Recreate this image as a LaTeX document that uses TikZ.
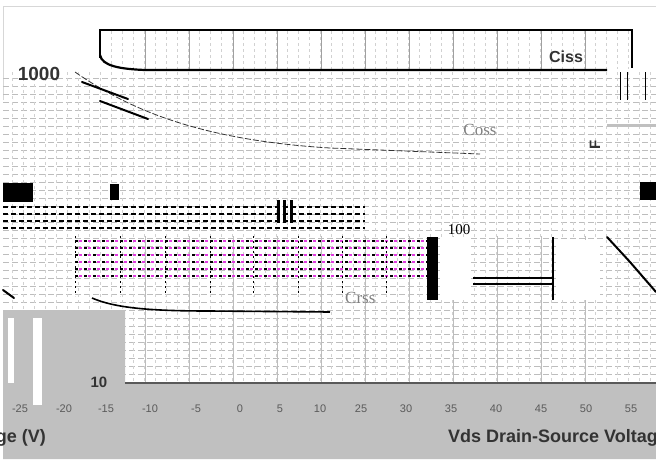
\documentclass[tikz,border=0pt]{standalone}
\usepackage{fontspec}
\setmainfont{Liberation Sans}
\newfontfamily\serifface{Liberation Serif}
\usetikzlibrary{positioning, calc}
\definecolor{gridgray}{HTML}{BDBDBD}
\definecolor{majorgray}{HTML}{A0A0A0}
\definecolor{panelgray}{HTML}{C0C0C0}
\definecolor{labelgray}{HTML}{333333}
\definecolor{ticktext}{HTML}{5A5A5A}
\definecolor{glitchpink}{HTML}{E23BE2}
\tikzset{
  minorgrid/.style={gridgray, line width=0.6pt, dash pattern=on 6pt off 3pt},
  vminor/.style={gridgray!70, line width=0.5pt, dash pattern=on 3pt off 3pt},
  majorgrid/.style={majorgray, line width=1pt},
  curveline/.style={labelgray, line width=0.8pt},
  thickcurve/.style={black, line width=2pt, line cap=round},
  axislabel/.style={labelgray, font=\bfseries\fontsize{18}{20}\selectfont, inner sep=0pt},
  ticklabel/.style={ticktext, font=\fontsize{11}{12}\selectfont, inner sep=0pt}
}

\begin{document}
\begin{tikzpicture}[x=1pt, y=-1pt]
  \useasboundingbox (0,0) rectangle (656,459);
  \fill[white] (0,0) rectangle (656,459);
  % page frame
  \draw[gridgray!60, line width=1pt] (3,100) -- (3,6) -- (656,6);
  % dashed grid of the plot area
  \foreach \gy in {78,86,...,376}
    \draw[minorgrid] (3,\gy) -- (656,\gy);
  \foreach \gx in {12,23,...,650}
    \draw[vminor] (\gx,72) -- (\gx,383);
  \foreach \gx in {145,189,...,588}
    \draw[majorgrid, gridgray] (\gx,236) -- (\gx,383);
  % glitch rows
  \foreach \gy in {207,214,221,228}
    \draw[black, line width=1.6pt, dash pattern=on 5pt off 3pt] (3,\gy) -- (365,\gy);
  \foreach \gy in {241,248,255,262,269,276} {
    \draw[black, line width=2pt, dash pattern=on 3pt off 6pt] (75,\gy) -- (430,\gy);
    \draw[glitchpink, line width=2pt, dash pattern=on 3pt off 6pt] (79,\gy) -- (430,\gy);
  }
  \foreach \gx in {75,120,165,210,253,298,342,386}
    \draw[black, line width=1pt, dash pattern=on 2pt off 3pt] (\gx,236) -- (\gx,296);
  % black blocks
  \fill[black] (3,183) rectangle (33,202);
  \fill[black] (110,184) rectangle (119,200);
  \fill[black] (640,182) rectangle (656,200);
  \foreach \gx in {277,283,290}
    \fill[black] (\gx,200) rectangle ++(3,23);
  \fill[black] (427,237) rectangle (438,300);
  \fill[white] (440,237) rectangle (470,300);
  \draw[black, line width=2pt] (553,237) -- (553,300);
  \draw[black, line width=1.2pt] (473,278) -- (553,278);
  \draw[black, line width=1.2pt] (473,284) -- (553,284);
  \fill[white] (556,240) rectangle (600,300);
  % right edge marks
  \foreach \gx in {620,627,645}
    \draw[black, line width=1pt] (\gx,72) -- (\gx,100);
  \draw[panelgray, line width=3pt] (607,125) -- (656,125);
  % Ciss panel
  \fill[white] (100,30) rectangle (632,70);
  \foreach \gx in {111,122,...,630}
    \draw[vminor] (\gx,31) -- (\gx,69);
  \foreach \gx in {145,189,...,588}
    \draw[majorgrid] (\gx,31) -- (\gx,69);
  \draw[black, line width=2pt] (100,58) -- (100,30) -- (632,30) -- (632,68);
  \draw[black, line width=2.2pt] (100,55) .. controls (102,66) and (120,69) .. (145,70) -- (607,70);
  \node[labelgray, font=\bfseries\fontsize{16}{18}\selectfont, inner sep=0pt] (ciss) at (566,57) {Ciss};
  % Coss curve
  \draw[curveline, dash pattern=on 6pt off 2pt] (75,72) .. controls (130,110) and (200,140) .. (330,148) -- (480,154);
  \draw[thickcurve] (82,82) -- (128,99);
  \draw[thickcurve] (100,101) -- (148,119);
  \node[gray, font=\serifface\fontsize{17}{18}\selectfont, inner sep=0pt] (coss) at (480,130) {Coss};
  \node[labelgray, font=\bfseries\fontsize{15}{16}\selectfont, rotate=90, inner sep=0pt] (unitmark) at (595,145) {F};
  % Crss curve
  \draw[thickcurve] (3,290) -- (14,298);
  \draw[black, line width=1.6pt] (92,298) .. controls (115,308) and (150,311) .. (210,311) -- (330,312);
  \node[gray, font=\serifface\fontsize{17}{18}\selectfont, inner sep=0pt, anchor=west] (crss) at (345,298) {Crss};
  \draw[thickcurve] (607,237) -- (630,262) -- (656,292);
  % value labels
  \node[labelgray, font=\bfseries\fontsize{19}{20}\selectfont, inner sep=0pt] (thousand) at (39,74) {1000};
  \node[black, font=\serifface\fontsize{15}{16}\selectfont, inner sep=0pt] (hundred) at (459,230) {100};
  % bottom gray panel
  \fill[panelgray] (3,310) -- (125,310) -- (125,383) -- (656,383) -- (656,459) -- (3,459) -- cycle;
  \fill[white] (33,318) rectangle (42,405);
  \fill[white] (8,318) rectangle (14,383);
  \draw[gray!70!black, line width=1.2pt] (125,383) -- (656,383);
  \node[labelgray, font=\bfseries\fontsize{15}{16}\selectfont, inner sep=0pt] (ten) at (99,382) {10};
  % tick labels
  \foreach \tx/\tv [count=\ti] in {20/-25,64/-20,106/-15,150/-10,196/-5,240/0,280/5,320/10,
      361/25,406/30,451/35,496/40,541/45,586/50,631/55}
    \node[ticklabel] (tick\ti) at (\tx,409) {\tv};
  % axis titles
  \node[axislabel, anchor=east] (vunit) at (46,438) {ge (V)};
  \node[axislabel, anchor=west] (vdstitle) at (448,438) {Vds Drain-Source Voltage};
\end{tikzpicture}
\end{document}
